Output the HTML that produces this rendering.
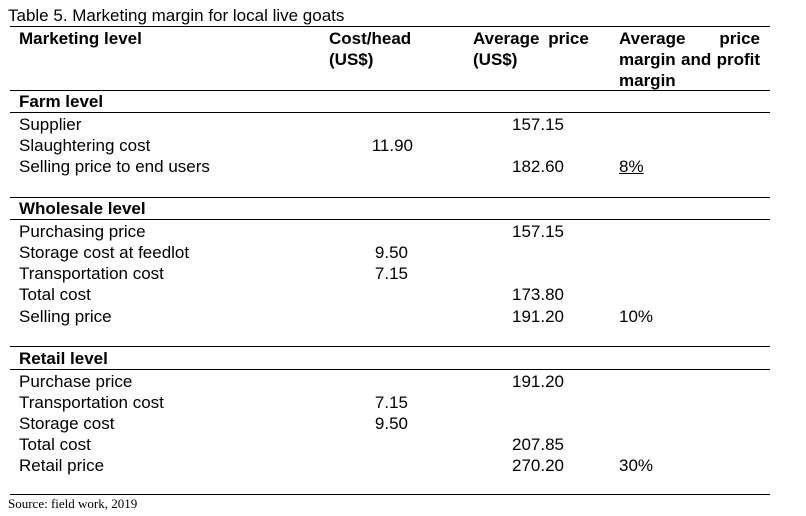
<!DOCTYPE html>
<html><head><meta charset="utf-8"><style>
body{margin:0;background:#fff;width:806px;height:516px;position:relative;overflow:hidden;font-family:"Liberation Sans",Arial,sans-serif;color:#000}
.t{position:absolute;font-size:17px;line-height:21px;white-space:nowrap}
.b{font-weight:bold}
.r{text-align:right}
.ln{position:absolute;left:10px;width:760px;height:1px;background:#000}
</style></head><body>
<div class="t" style="left:8px;top:5px">Table 5. Marketing margin for local live goats</div>
<div class="ln" style="top:26px"></div>
<div class="t b" style="left:19px;top:28px">Marketing level</div>
<div class="t b" style="left:329px;top:28px">Cost/head<br>(US$)</div>
<div class="t b" style="left:473px;top:28px;word-spacing:4px">Average price<br>(US$)</div>
<div class="t b" style="left:619px;top:28px;width:141px;white-space:normal;text-align:justify;line-height:21px">Average price margin and profit margin</div>
<div class="ln" style="top:90px"></div>

<div class="t b" style="left:19px;top:91px">Farm level</div>
<div class="ln" style="top:112px"></div>
<div class="t" style="left:19px;top:114px">Supplier</div>
<div class="t" style="left:19px;top:135px">Slaughtering cost</div>
<div class="t" style="left:19px;top:156px">Selling price to end users</div>
<div class="t r" style="right:242px;top:114px">157.15</div>
<div class="t r" style="right:393px;top:135px">11.90</div>
<div class="t r" style="right:242px;top:156px">182.60</div>
<div class="t" style="left:619px;top:156px;text-decoration:underline">8%</div>

<div class="ln" style="top:197px"></div>
<div class="t b" style="left:19px;top:198px">Wholesale level</div>
<div class="ln" style="top:219px"></div>
<div class="t" style="left:19px;top:221px">Purchasing price</div>
<div class="t" style="left:19px;top:242px">Storage cost at feedlot</div>
<div class="t" style="left:19px;top:263px">Transportation cost</div>
<div class="t" style="left:19px;top:284px">Total cost</div>
<div class="t" style="left:19px;top:306px">Selling price</div>
<div class="t r" style="right:242px;top:221px">157.15</div>
<div class="t r" style="right:398px;top:242px">9.50</div>
<div class="t r" style="right:398px;top:263px">7.15</div>
<div class="t r" style="right:242px;top:284px">173.80</div>
<div class="t r" style="right:242px;top:306px">191.20</div>
<div class="t" style="left:619px;top:306px">10%</div>

<div class="ln" style="top:346px"></div>
<div class="t b" style="left:19px;top:348px">Retail level</div>
<div class="ln" style="top:369px"></div>
<div class="t" style="left:19px;top:371px">Purchase price</div>
<div class="t" style="left:19px;top:392px">Transportation cost</div>
<div class="t" style="left:19px;top:413px">Storage cost</div>
<div class="t" style="left:19px;top:434px">Total cost</div>
<div class="t" style="left:19px;top:455px">Retail price</div>
<div class="t r" style="right:242px;top:371px">191.20</div>
<div class="t r" style="right:398px;top:392px">7.15</div>
<div class="t r" style="right:398px;top:413px">9.50</div>
<div class="t r" style="right:242px;top:434px">207.85</div>
<div class="t r" style="right:242px;top:455px">270.20</div>
<div class="t" style="left:619px;top:455px">30%</div>

<div class="ln" style="top:494px"></div>
<div class="t" style="left:8px;top:496px;font-family:'Liberation Serif',serif;font-size:13px;line-height:16px">Source: field work, 2019</div>
</body></html>
